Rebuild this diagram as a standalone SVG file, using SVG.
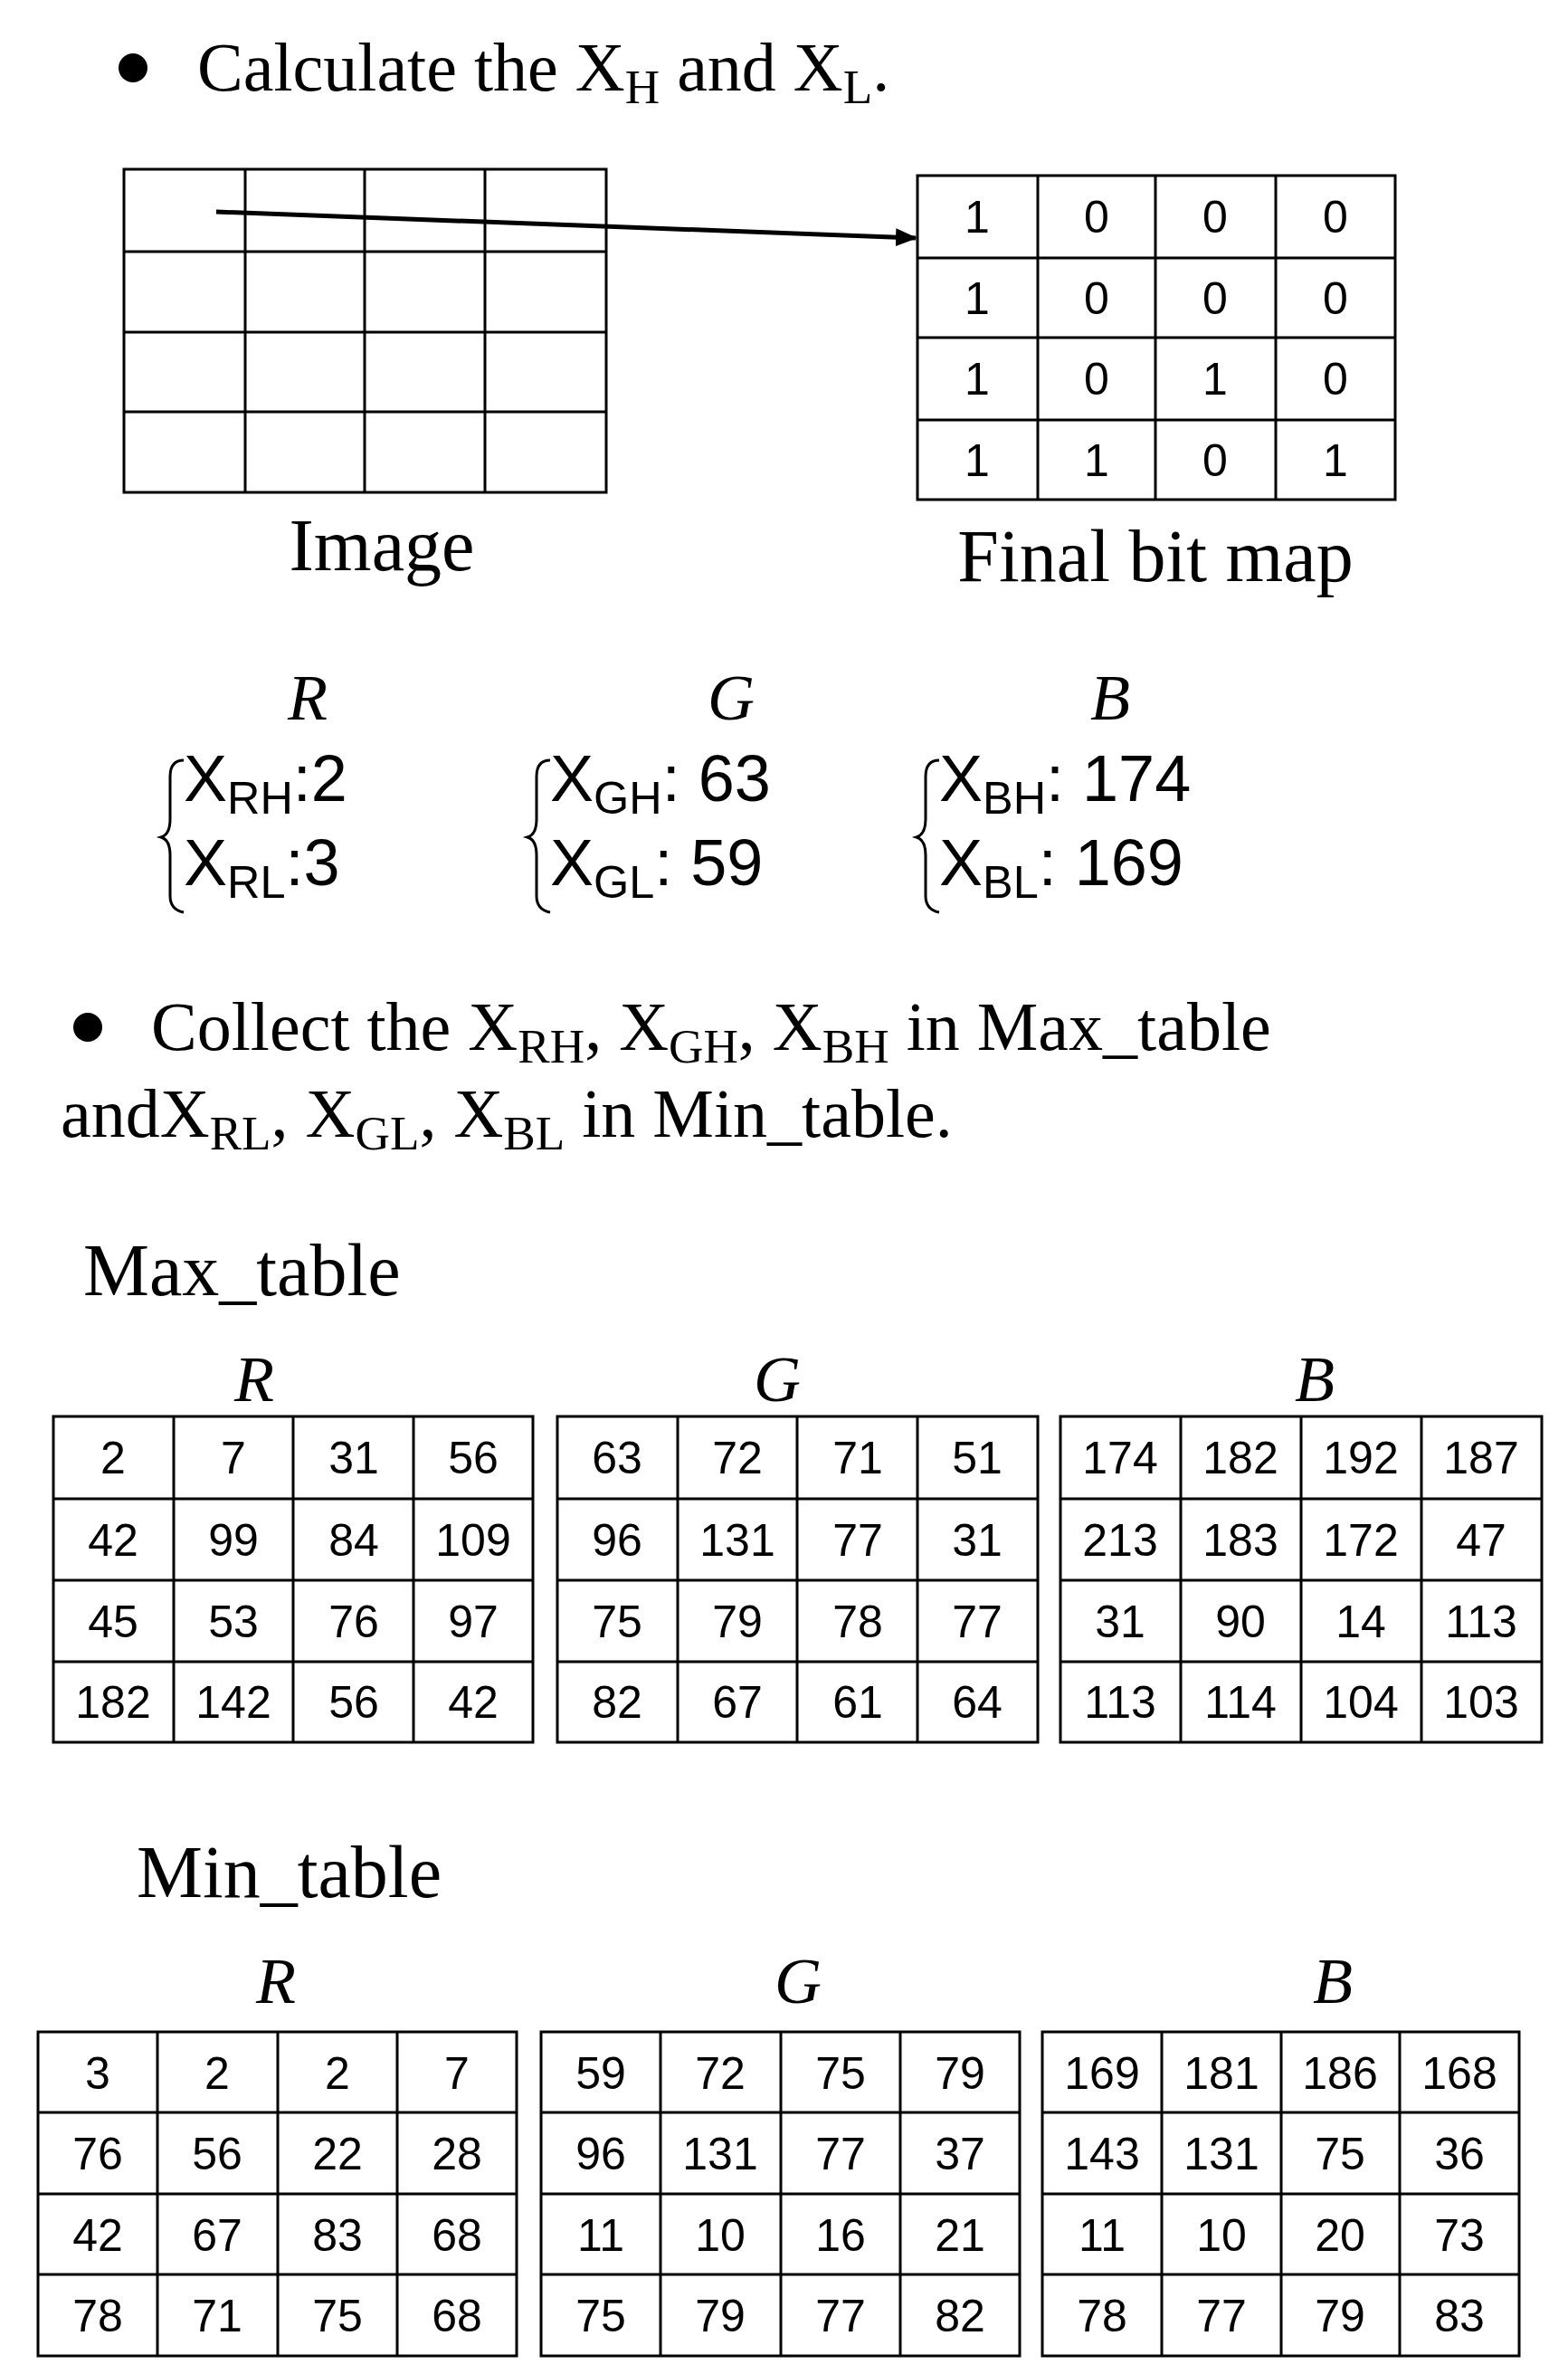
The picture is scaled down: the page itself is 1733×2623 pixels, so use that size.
<svg xmlns="http://www.w3.org/2000/svg" width="1733" height="2623" viewBox="0 0 1733 2623">
<style>
.t{font-family:"Liberation Serif","Times New Roman",serif;font-size:76px;fill:#000}
.L{font-size:82px}
.i{font-family:"Liberation Serif",serif;font-style:italic;font-size:72px;fill:#000;text-anchor:middle}
.m{font-family:"Liberation Sans",Arial,sans-serif;font-size:72px;fill:#000}
.c{font-family:"Liberation Sans",Arial,sans-serif;font-size:50px;fill:#000;text-anchor:middle}
.s{font-size:0.7em}
.g{fill:#fff;stroke:#000;stroke-width:3}
.gl{fill:none;stroke:#000;stroke-width:3}
.br{fill:none;stroke:#000;stroke-width:3}
</style>
<defs>
<marker id="a2" markerWidth="24" markerHeight="20" refX="22" refY="10" orient="auto" markerUnits="userSpaceOnUse"><path d="M0,0 L24,10 L0,20 Z" fill="#000"/></marker></defs>

<g id="title1">
<circle cx="147" cy="75" r="16" fill="#000"/>
<text class="t" x="218" y="100">Calculate the X<tspan class="s" dy="14">H</tspan><tspan dy="-14"> and X</tspan><tspan class="s" dy="14">L</tspan><tspan dy="-14">.</tspan></text>
</g>

<g id="image">
<rect class="g" x="137" y="187" width="533" height="357"/>
<path class="gl" d="M271 187V544M403 187V544M536 187V544M137 278H670M137 367H670M137 455H670"/>
<text class="t L" x="422" y="630" text-anchor="middle">Image</text>
</g>

<g id="bitmap">
<rect class="g" x="1014" y="194" width="528" height="358"/>
<path class="gl" d="M1147 194V552M1277 194V552M1410 194V552M1014 285H1542M1014 373H1542M1014 464H1542"/>
<g class="c">
<text x="1080" y="257">1</text><text x="1212" y="257">0</text><text x="1343" y="257">0</text><text x="1476" y="257">0</text>
<text x="1080" y="347">1</text><text x="1212" y="347">0</text><text x="1343" y="347">0</text><text x="1476" y="347">0</text>
<text x="1080" y="436">1</text><text x="1212" y="436">0</text><text x="1343" y="436">1</text><text x="1476" y="436">0</text>
<text x="1080" y="526">1</text><text x="1212" y="526">1</text><text x="1343" y="526">0</text><text x="1476" y="526">1</text>
</g>
<text class="t L" x="1277" y="642" text-anchor="middle">Final bit map</text>
</g>

<g id="connectors">
<line x1="239" y1="234" x2="1012" y2="263" stroke="#000" stroke-width="5" marker-end="url(#a2)"/>
</g>

<g id="values">
<text class="i" x="340" y="795">R</text>
<text class="i" x="808" y="795">G</text>
<text class="i" x="1227" y="795">B</text>
<path class="br" d="M203 840 Q188 840 188 858 V905 Q188 922 178 925 Q188 928 188 945 V990 Q188 1005 203 1008"/>
<path class="br" d="M608 840 Q593 840 593 858 V905 Q593 922 583 925 Q593 928 593 945 V990 Q593 1005 608 1008"/>
<path class="br" d="M1038 840 Q1023 840 1023 858 V905 Q1023 922 1013 925 Q1023 928 1023 945 V990 Q1023 1005 1038 1008"/>
<text class="m" x="203" y="885">X<tspan class="s" dy="14">RH</tspan><tspan dy="-14">:2</tspan></text>
<text class="m" x="203" y="978">X<tspan class="s" dy="14">RL</tspan><tspan dy="-14">:3</tspan></text>
<text class="m" x="608" y="885">X<tspan class="s" dy="14">GH</tspan><tspan dy="-14">: 63</tspan></text>
<text class="m" x="608" y="978">X<tspan class="s" dy="14">GL</tspan><tspan dy="-14">: 59</tspan></text>
<text class="m" x="1038" y="885">X<tspan class="s" dy="14">BH</tspan><tspan dy="-14">: 174</tspan></text>
<text class="m" x="1038" y="978">X<tspan class="s" dy="14">BL</tspan><tspan dy="-14">: 169</tspan></text>
</g>

<g id="title2">
<circle cx="97" cy="1135" r="16" fill="#000"/>
<text class="t" x="167" y="1160">Collect the X<tspan class="s" dy="14">RH</tspan><tspan dy="-14">, X</tspan><tspan class="s" dy="14">GH</tspan><tspan dy="-14">, X</tspan><tspan class="s" dy="14">BH</tspan><tspan dy="-14"> in Max_table</tspan></text>
<text class="t" x="67" y="1256">andX<tspan class="s" dy="14">RL</tspan><tspan dy="-14">, X</tspan><tspan class="s" dy="14">GL</tspan><tspan dy="-14">, X</tspan><tspan class="s" dy="14">BL</tspan><tspan dy="-14"> in Min_table.</tspan></text>
</g>

<g id="max_table">
<text class="t L" x="92" y="1431">Max_table</text>
<text class="i" x="281" y="1548">R</text>
<text class="i" x="859" y="1548">G</text>
<text class="i" x="1453" y="1548">B</text>
<rect class="g" x="59" y="1565" width="530" height="360"/>
<path class="gl" d="M192 1565V1925M324 1565V1925M457 1565V1925M59 1656H589M59 1746H589M59 1836H589"/>
<rect class="g" x="616" y="1565" width="531" height="360"/>
<path class="gl" d="M749 1565V1925M881 1565V1925M1014 1565V1925M616 1656H1147M616 1746H1147M616 1836H1147"/>
<rect class="g" x="1172" y="1565" width="532" height="360"/>
<path class="gl" d="M1305 1565V1925M1438 1565V1925M1571 1565V1925M1172 1656H1704M1172 1746H1704M1172 1836H1704"/>
<g class="c">
<text x="125" y="1628">2</text><text x="258" y="1628">7</text><text x="391" y="1628">31</text><text x="523" y="1628">56</text>
<text x="125" y="1719">42</text><text x="258" y="1719">99</text><text x="391" y="1719">84</text><text x="523" y="1719">109</text>
<text x="125" y="1809">45</text><text x="258" y="1809">53</text><text x="391" y="1809">76</text><text x="523" y="1809">97</text>
<text x="125" y="1898">182</text><text x="258" y="1898">142</text><text x="391" y="1898">56</text><text x="523" y="1898">42</text>
<text x="682" y="1628">63</text><text x="815" y="1628">72</text><text x="948" y="1628">71</text><text x="1080" y="1628">51</text>
<text x="682" y="1719">96</text><text x="815" y="1719">131</text><text x="948" y="1719">77</text><text x="1080" y="1719">31</text>
<text x="682" y="1809">75</text><text x="815" y="1809">79</text><text x="948" y="1809">78</text><text x="1080" y="1809">77</text>
<text x="682" y="1898">82</text><text x="815" y="1898">67</text><text x="948" y="1898">61</text><text x="1080" y="1898">64</text>
<text x="1238" y="1628">174</text><text x="1371" y="1628">182</text><text x="1504" y="1628">192</text><text x="1637" y="1628">187</text>
<text x="1238" y="1719">213</text><text x="1371" y="1719">183</text><text x="1504" y="1719">172</text><text x="1637" y="1719">47</text>
<text x="1238" y="1809">31</text><text x="1371" y="1809">90</text><text x="1504" y="1809">14</text><text x="1637" y="1809">113</text>
<text x="1238" y="1898">113</text><text x="1371" y="1898">114</text><text x="1504" y="1898">104</text><text x="1637" y="1898">103</text>
</g>
</g>

<g id="min_table">
<text class="t L" x="151" y="2096">Min_table</text>
<text class="i" x="305" y="2213">R</text>
<text class="i" x="882" y="2213">G</text>
<text class="i" x="1473" y="2213">B</text>
<rect class="g" x="42" y="2245" width="529" height="358"/>
<path class="gl" d="M174 2245V2603M307 2245V2603M439 2245V2603M42 2334H571M42 2424H571M42 2513H571"/>
<rect class="g" x="598" y="2245" width="529" height="358"/>
<path class="gl" d="M730 2245V2603M863 2245V2603M995 2245V2603M598 2334H1127M598 2424H1127M598 2513H1127"/>
<rect class="g" x="1152" y="2245" width="527" height="358"/>
<path class="gl" d="M1284 2245V2603M1416 2245V2603M1547 2245V2603M1152 2334H1679M1152 2424H1679M1152 2513H1679"/>
<g class="c">
<text x="108" y="2308">3</text><text x="240" y="2308">2</text><text x="373" y="2308">2</text><text x="505" y="2308">7</text>
<text x="108" y="2397">76</text><text x="240" y="2397">56</text><text x="373" y="2397">22</text><text x="505" y="2397">28</text>
<text x="108" y="2487">42</text><text x="240" y="2487">67</text><text x="373" y="2487">83</text><text x="505" y="2487">68</text>
<text x="108" y="2576">78</text><text x="240" y="2576">71</text><text x="373" y="2576">75</text><text x="505" y="2576">68</text>
<text x="664" y="2308">59</text><text x="796" y="2308">72</text><text x="929" y="2308">75</text><text x="1061" y="2308">79</text>
<text x="664" y="2397">96</text><text x="796" y="2397">131</text><text x="929" y="2397">77</text><text x="1061" y="2397">37</text>
<text x="664" y="2487">11</text><text x="796" y="2487">10</text><text x="929" y="2487">16</text><text x="1061" y="2487">21</text>
<text x="664" y="2576">75</text><text x="796" y="2576">79</text><text x="929" y="2576">77</text><text x="1061" y="2576">82</text>
<text x="1218" y="2308">169</text><text x="1350" y="2308">181</text><text x="1481" y="2308">186</text><text x="1613" y="2308">168</text>
<text x="1218" y="2397">143</text><text x="1350" y="2397">131</text><text x="1481" y="2397">75</text><text x="1613" y="2397">36</text>
<text x="1218" y="2487">11</text><text x="1350" y="2487">10</text><text x="1481" y="2487">20</text><text x="1613" y="2487">73</text>
<text x="1218" y="2576">78</text><text x="1350" y="2576">77</text><text x="1481" y="2576">79</text><text x="1613" y="2576">83</text>
</g>
</g>
</svg>
